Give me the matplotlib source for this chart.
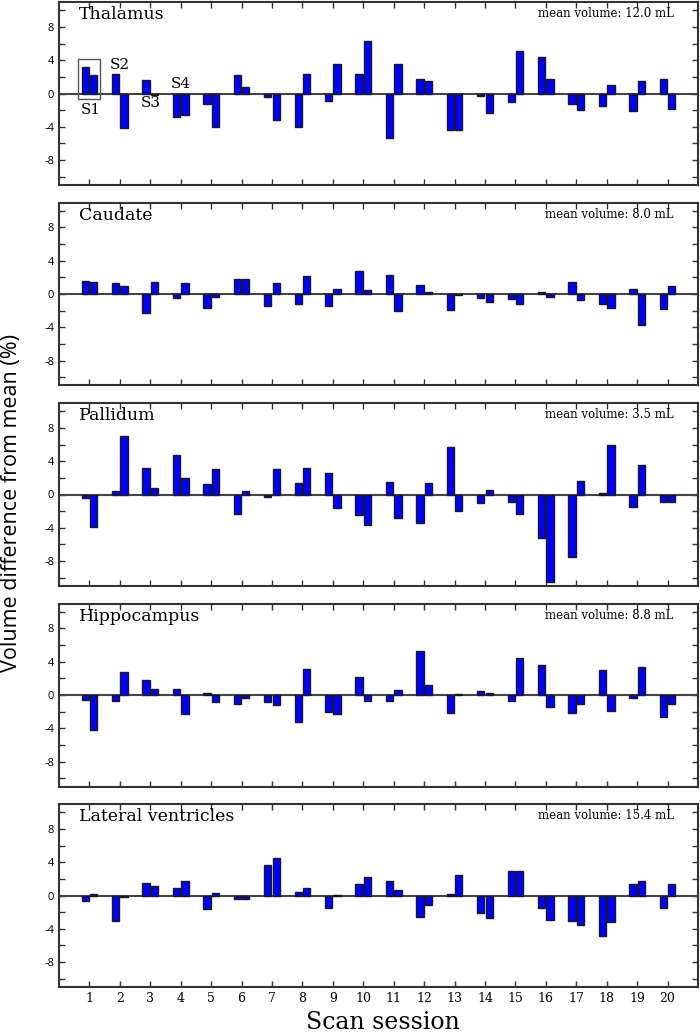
import matplotlib.pyplot as plt
from matplotlib.patches import Rectangle
import numpy as np

sessions = np.arange(1, 21)
regions = ["Thalamus", "Caudate", "Pallidum", "Hippocampus", "Lateral ventricles"]
mean_volumes = ["12.0", "8.0", "3.5", "8.8", "15.4"]

# first and second scan of each session, % difference from mean
thalamus_a = [3.16, 2.36, 1.6, -2.8, -1.32, 2.2, -0.44, -4.04, -0.88, 2.4,
              -5.32, 1.8, -4.44, -0.32, -1.0, 4.44, -1.28, -1.52, -2.16, 1.76]
thalamus_b = [2.28, -4.2, -0.2, -2.6, -4.08, 0.8, -3.16, 2.4, 3.56, 6.36,
              3.6, 1.56, -4.44, -2.32, 5.16, 1.8, -2.04, 1.08, 1.56, -1.92]
caudate_a = [1.56, 1.28, -2.28, -0.48, -1.72, 1.76, -1.44, -1.16, -1.44, 2.72,
             2.32, 1.04, -1.92, -0.48, -0.6, 0.28, 1.44, -1.24, 0.64, -1.76]
caudate_b = [1.4, 0.92, 1.44, 1.32, -0.36, 1.76, 1.36, 2.12, 0.56, 0.44,
             -2.04, 0.28, -0.16, -0.92, -1.24, -0.32, -0.72, -1.72, -3.68, 1.0]
pallidum_a = [-0.44, 0.4, 3.16, 4.8, 1.32, -2.32, -0.32, 1.36, 2.56, -2.44,
              1.56, -3.48, 5.68, -1.04, -0.92, -5.24, -7.56, 0.2, -1.52, -0.96]
pallidum_b = [-3.96, 7.04, 0.84, 2.04, 3.12, 0.44, 3.04, 3.24, -1.68, -3.68,
              -2.84, 1.44, -2.04, 0.52, -2.32, -10.56, 1.68, 5.96, 3.6, -0.96]
hippocampus_a = [-0.56, -0.72, 1.8, 0.68, 0.28, -1.08, -0.88, -3.24, -2.04, 2.16,
                 -0.72, 5.24, -2.2, 0.52, -0.76, 3.56, -2.2, 2.96, -0.4, -2.68]
hippocampus_b = [-4.2, 2.72, 0.72, -2.28, -0.88, -0.36, -1.24, 3.08, -2.24, -0.72,
                 0.64, 1.2, 0.16, 0.24, 4.48, -1.44, -1.08, -1.92, 3.36, -1.08]
ventricles_a = [-0.68, -3.08, 1.48, 0.96, -1.64, -0.4, 3.68, 0.4, -1.52, 1.44,
                1.72, -2.6, 0.16, -2.12, 3.0, -1.48, -3.08, -4.84, 1.36, -1.48]
ventricles_b = [0.2, -0.2, 1.16, 1.76, 0.28, -0.44, 4.48, 0.96, 0.08, 2.28,
                0.72, -1.12, 2.52, -2.76, 3.0, -3.0, -3.52, -3.16, 1.76, 1.36]

scan_a = [thalamus_a, caudate_a, pallidum_a, hippocampus_a, ventricles_a]
scan_b = [thalamus_b, caudate_b, pallidum_b, hippocampus_b, ventricles_b]

serif = "DejaVu Serif"
sans = "Open Sans"

fig = plt.figure(figsize=(7, 10.35), dpi=100)
H = 1035.0
for i, region in enumerate(regions):
    top = 2 + 200.5 * i
    ax = fig.add_axes([59 / 700, 1 - (top + 183) / H, 639 / 700, 183 / H])
    ax.bar(sessions - 0.14, scan_a[i], width=0.24, color="#0000ff",
           edgecolor="#1a1a1a", linewidth=1, zorder=3)
    ax.bar(sessions + 0.14, scan_b[i], width=0.24, color="#0000ff",
           edgecolor="#1a1a1a", linewidth=1, zorder=3)
    ax.axhline(0, color="#444444", linewidth=1.5, zorder=2)
    ax.set_xlim(0, 21)
    ax.set_ylim(-11, 11)
    ax.set_xticks(sessions)
    ax.set_yticks([-8, -4, 0, 4, 8])
    ax.set_yticks([-10, -6, -2, 2, 6, 10], minor=True)
    ax.tick_params(which="both", direction="in", top=True, right=True,
                   length=4, width=1, color="#333333")
    ax.set_yticklabels(["-8", "-4", "0", "4", "8"], family=sans, fontsize=8)
    if i == len(regions) - 1:
        ax.set_xticklabels([str(s) for s in sessions], family=serif, fontsize=9)
    else:
        ax.set_xticklabels([])
    for sp in ax.spines.values():
        sp.set_color("#333333")
        sp.set_linewidth(1.5)
    ax.text(0.031, 0.93, region, transform=ax.transAxes, ha="left", va="center",
            family=serif, fontsize=12.5)
    ax.text(0.962, 0.935, "mean volume: " + mean_volumes[i] + " mL",
            transform=ax.transAxes, ha="right", va="center", family=serif,
            fontsize=8.5)
    if i == 0:
        ax.add_patch(Rectangle((0.64, -0.7), 0.71, 4.8, fill=False,
                               edgecolor="#555555", linewidth=1, zorder=4))
        ax.text(1.03, -2.0, "S1", ha="center", va="center", family=serif, fontsize=11)
        ax.text(2.0, 3.4, "S2", ha="center", va="center", family=serif, fontsize=11)
        ax.text(3.0, -1.2, "S3", ha="center", va="center", family=serif, fontsize=11)
        ax.text(4.0, 1.1, "S4", ha="center", va="center", family=serif, fontsize=11)

fig.text(0.017, 0.514, "Volume difference from mean (%)", rotation=90,
         ha="center", va="center", family=sans, fontsize=15.5)
fig.text(0.547, 0.012, "Scan session", ha="center", va="center",
         family=serif, fontsize=17)

fig.savefig("out.png", dpi=100)
